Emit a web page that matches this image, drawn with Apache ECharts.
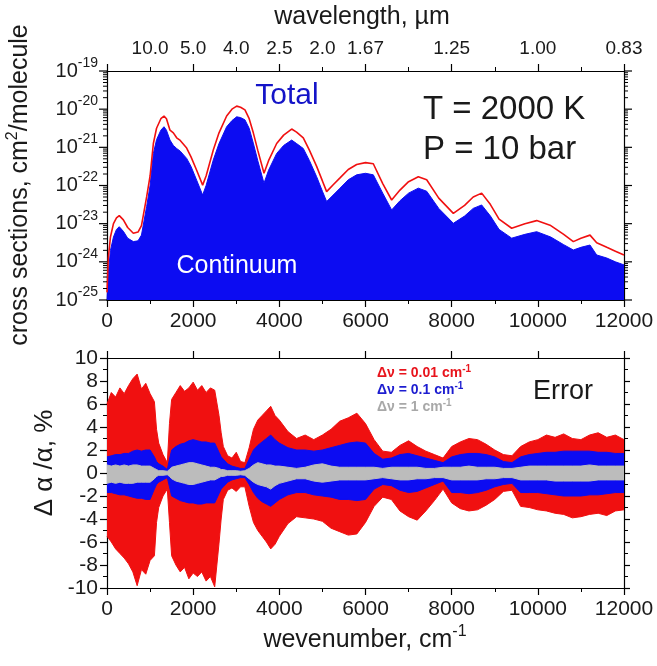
<!DOCTYPE html>
<html><head><meta charset="utf-8">
<script src="https://cdn.jsdelivr.net/npm/echarts@6/dist/echarts.min.js"></script>
<style>html,body{margin:0;padding:0;background:#fff}#c{width:657px;height:666px}</style>
</head><body><div id="c"></div>
<script>
// ---------- top panel: cross sections (log10 of cm^2/molecule) ----------
const specX = [0,30,80,150,220,285,380,480,611,720,800,920,1000,1076,1150,1250,1323,1380,1462,1540,1617,1700,1849,1950,2081,2220,2300,2467,2600,2777,2900,3010,3100,3202,3300,3396,3500,3644,3750,3938,4100,4286,4400,4556,4700,4866,5000,5098,5250,5408,5600,5795,6000,6181,6400,6607,6800,7000,7226,7420,7700,8039,8300,8500,8696,8900,9100,9393,9700,9973,10300,10600,10824,11000,11211,11366,11600,11800,12000];
const totalExp = [-25.0,-24.3,-23.7,-23.35,-23.15,-23.08,-23.2,-23.38,-23.47,-23.45,-23.3,-22.55,-22.0,-21.16,-20.8,-20.55,-20.46,-20.55,-20.81,-20.95,-21.03,-21.1,-21.29,-21.5,-21.86,-22.25,-22.0,-21.33,-20.9,-20.46,-20.3,-20.2,-20.22,-20.28,-20.5,-20.89,-21.35,-21.94,-21.6,-21.16,-20.95,-20.81,-20.9,-21.03,-21.35,-21.77,-22.15,-22.42,-22.25,-22.07,-21.85,-21.72,-21.68,-21.72,-22.2,-22.64,-22.4,-22.2,-22.07,-22.15,-22.6,-22.99,-22.8,-22.6,-22.51,-22.8,-23.15,-23.38,-23.28,-23.21,-23.35,-23.55,-23.69,-23.62,-23.56,-23.82,-23.9,-24.0,-24.08];
const redExp = [-24.8,-23.9,-23.35,-23.0,-22.85,-22.79,-22.9,-23.1,-23.25,-23.22,-23.05,-22.3,-21.75,-20.9,-20.5,-20.25,-20.18,-20.25,-20.55,-20.62,-20.75,-20.82,-21.02,-21.25,-21.6,-21.99,-21.75,-21.07,-20.62,-20.18,-20.0,-19.92,-19.95,-20.02,-20.25,-20.62,-21.08,-21.68,-21.35,-20.9,-20.68,-20.52,-20.6,-20.75,-21.08,-21.5,-21.88,-22.16,-21.98,-21.8,-21.58,-21.45,-21.4,-21.43,-21.95,-22.38,-22.12,-21.9,-21.77,-21.85,-22.33,-22.73,-22.52,-22.3,-22.2,-22.5,-22.88,-23.12,-23.0,-22.92,-23.05,-23.28,-23.47,-23.38,-23.3,-23.5,-23.62,-23.72,-23.82];
const logTickExps = [-25,-24,-23,-22,-21,-20,-19];
const wlTickPos = [1000,2000,3000,4000,5000,6000,8000,10000,12000];
const wlTickLabels = ['10.0','5.0','4.0','2.5','2.0','1.67','1.25','1.00','0.83'];

// ---------- bottom panel: error envelopes (%) ----------
const errX = [0,100,200,300,400,500,600,700,800,900,1000,1100,1150,1200,1300,1400,1450,1500,1600,1700,1800,1900,2000,2100,2200,2300,2400,2500,2600,2650,2700,2800,2900,3000,3100,3200,3300,3400,3500,3600,3700,3800,3900,4000,4200,4400,4600,4800,5000,5200,5400,5600,5800,6000,6200,6400,6600,6800,7000,7200,7400,7600,7800,8000,8200,8400,8600,8800,9000,9200,9400,9600,9800,10000,10200,10400,10600,10800,11000,11200,11400,11600,11800,12000];
const red001Up = [6.0,7.0,6.6,7.4,6.9,7.6,8.2,8.6,7.3,7.8,6.9,6.2,3.8,2.6,1.6,0.9,4.3,6.4,7.0,7.6,7.1,7.4,7.9,7.2,7.6,7.0,7.4,7.2,5.0,3.5,2.3,1.5,1.3,1.8,1.0,0.9,2.2,3.8,4.6,5.0,5.4,5.8,5.0,4.6,3.6,3.0,3.3,2.9,3.3,3.8,4.5,4.8,5.2,4.3,2.9,1.9,1.8,2.4,2.8,2.3,1.9,1.6,1.3,2.3,2.7,3.0,2.9,2.5,2.0,1.6,1.5,2.3,2.7,2.9,3.3,3.1,3.4,3.0,2.9,3.3,3.5,3.1,3.3,2.9];
const red001Lo = [-5.5,-6.0,-6.6,-7.0,-7.4,-7.9,-8.6,-9.8,-8.4,-8.8,-7.6,-7.2,-4.3,-3.0,-2.0,-1.4,-4.3,-7.2,-8.0,-8.6,-8.2,-9.2,-8.7,-9.0,-8.6,-9.4,-9.0,-9.9,-6.1,-4.0,-2.3,-1.5,-1.3,-1.6,-1.2,-1.2,-2.9,-4.3,-5.0,-5.5,-6.0,-6.6,-6.2,-5.5,-4.4,-3.8,-3.9,-4.0,-4.2,-4.8,-5.1,-5.4,-5.3,-4.3,-2.9,-2.1,-2.3,-3.3,-3.8,-4.1,-3.3,-2.4,-1.4,-2.6,-3.1,-3.3,-3.2,-2.8,-2.3,-1.6,-1.5,-2.9,-3.0,-3.2,-3.3,-3.5,-3.6,-3.9,-3.8,-3.6,-3.5,-3.7,-3.3,-3.2];
const blue01Up = [1.4,1.5,1.6,1.6,1.7,1.7,1.9,2.0,1.9,2.0,2.0,1.4,1.0,0.8,0.6,0.3,1.2,2.0,2.3,2.5,2.6,2.8,2.9,2.8,2.7,2.7,2.6,2.6,1.8,1.4,1.2,0.8,0.6,0.5,0.4,0.4,1.2,2.0,2.4,2.7,3.0,3.3,2.9,2.6,2.2,2.0,2.0,1.9,2.0,2.2,2.4,2.6,2.7,2.6,1.7,1.2,1.3,1.6,1.7,1.5,1.3,1.1,0.9,1.4,1.6,1.7,1.7,1.6,1.4,1.0,0.9,1.4,1.6,1.7,1.8,1.8,1.9,1.9,1.9,1.9,1.8,1.8,1.7,1.7];
const blue01Lo = [-1.7,-1.7,-1.8,-1.9,-1.9,-2.0,-2.1,-2.2,-2.2,-2.3,-2.3,-1.4,-1.0,-0.8,-0.6,-0.4,-1.2,-2.0,-2.2,-2.4,-2.5,-2.6,-2.6,-2.7,-2.7,-2.6,-2.6,-2.6,-1.8,-1.4,-1.2,-0.8,-0.6,-0.5,-0.4,-0.4,-1.0,-1.7,-2.2,-2.5,-2.7,-2.9,-2.6,-2.3,-1.9,-1.7,-1.7,-1.9,-2.0,-2.1,-2.3,-2.3,-2.4,-2.3,-1.4,-1.0,-1.1,-1.5,-1.7,-1.6,-1.3,-1.0,-0.7,-1.7,-1.7,-1.8,-1.7,-1.5,-1.2,-1.0,-0.9,-1.7,-1.7,-1.7,-1.8,-1.9,-2.0,-2.0,-2.0,-1.9,-1.9,-1.8,-1.7,-1.7];
const gray1Up = [0.7,0.6,0.7,0.6,0.7,0.6,0.7,0.7,0.6,0.6,0.6,0.4,0.3,0.2,0.2,0.15,0.3,0.5,0.6,0.7,0.8,0.9,0.9,0.8,0.7,0.6,0.5,0.5,0.4,0.3,0.3,0.2,0.2,0.2,0.15,0.2,0.4,0.7,0.9,0.8,0.7,0.7,0.6,0.6,0.5,0.4,0.5,0.7,0.8,0.6,0.5,0.5,0.5,0.5,0.5,0.4,0.5,0.5,0.5,0.5,0.4,0.4,0.5,0.5,0.5,0.6,0.5,0.5,0.5,0.4,0.4,0.5,0.6,0.6,0.6,0.6,0.6,0.6,0.6,0.7,0.6,0.6,0.6,0.6];
const gray1Lo = [-0.9,-0.8,-0.9,-0.8,-0.9,-0.9,-0.9,-0.8,-0.8,-0.8,-0.8,-0.5,-0.3,-0.2,-0.2,-0.15,-0.3,-0.5,-0.7,-0.8,-0.9,-1.0,-1.0,-0.9,-0.8,-0.7,-0.6,-0.6,-0.4,-0.3,-0.3,-0.2,-0.2,-0.2,-0.15,-0.2,-0.5,-0.8,-1.0,-1.1,-1.2,-1.4,-1.1,-0.9,-0.7,-0.5,-0.5,-0.7,-0.8,-0.7,-0.6,-0.6,-0.6,-0.6,-0.5,-0.4,-0.5,-0.6,-0.6,-0.5,-0.5,-0.4,-0.4,-0.6,-0.6,-0.6,-0.6,-0.5,-0.5,-0.4,-0.4,-0.6,-0.6,-0.6,-0.6,-0.7,-0.7,-0.7,-0.7,-0.7,-0.6,-0.6,-0.6,-0.6];

// ---------- styling ----------
const FONT = '"Liberation Sans", Arial, sans-serif';
const TXT = '#1a1a1a';
const BLUE = '#0c0cf2';
const RED = '#f01010';
const GRAY = '#bcbcbc';
const Y_MIN = 1e-25, Y_MAX = 1e-19;

// minor tick values of the log axis (2..9 x 10^n)
const logMinor = [];
for (let n = -25; n < -19; n++) for (let k = 2; k <= 9; k++) logMinor.push(k * Math.pow(10, n));

const chart = echarts.init(document.getElementById('c'), null, {renderer: 'canvas'});

const G0 = {left: 107, top: 71, width: 517, height: 229, containLabel: false, outerBoundsMode: 'none'};
const G1 = {left: 107, top: 358, width: 517, height: 230, containLabel: false, outerBoundsMode: 'none'};

function xBase(gridIndex, position, showLabel, extra) {
  return Object.assign({
    type: 'value', gridIndex, position, min: 0, max: 12000, interval: 2000,
    axisLine: {show: true, onZero: false, lineStyle: {color: '#000', width: 1.2}},
    axisTick: {show: true, inside: false, length: 7, lineStyle: {color: '#000', width: 1.2}},
    minorTick: {show: true, splitNumber: 2, length: 4, lineStyle: {color: '#000', width: 1}},
    splitLine: {show: false}, minorSplitLine: {show: false},
    axisLabel: {show: showLabel, fontFamily: FONT, fontSize: 21, color: TXT, margin: 11, formatter: (v) => String(v)}
  }, extra || {});
}

const option = {
  animation: false,
  backgroundColor: '#fff',
  grid: [G0, G1],
  xAxis: [
    xBase(0, 'bottom', true),
    xBase(0, 'top', true, {
      axisLabel: {show: true, fontFamily: FONT, fontSize: 19, color: TXT, margin: 13,
        customValues: wlTickPos,
        formatter: (v) => { const i = wlTickPos.indexOf(v); return i >= 0 ? wlTickLabels[i] : ''; }}
    }),
    xBase(1, 'bottom', true),
    xBase(1, 'top', false, {minorTick: {show: false}})
  ],
  yAxis: [
    { // 0: data log axis (left); decade labels drawn by the custom series below
      type: 'log', logBase: 10, gridIndex: 0, position: 'left', min: Y_MIN, max: Y_MAX,
      axisLine: {show: true, onZero: false, lineStyle: {color: '#000', width: 1.2}},
      axisTick: {show: false}, axisLabel: {show: false}, splitLine: {show: false}
    },
    { // 1: right log axis
      type: 'log', logBase: 10, gridIndex: 0, position: 'right', min: Y_MIN, max: Y_MAX,
      axisLine: {show: true, onZero: false, lineStyle: {color: '#000', width: 1.2}},
      axisTick: {show: false}, axisLabel: {show: false}, splitLine: {show: false}
    },
    { // 2: error axis left
      type: 'value', gridIndex: 1, position: 'left', min: -10, max: 10, interval: 2,
      axisLine: {show: true, onZero: false, lineStyle: {color: '#000', width: 1.2}},
      axisTick: {show: true, length: 7, lineStyle: {color: '#000', width: 1.2}},
      minorTick: {show: true, splitNumber: 2, length: 4, lineStyle: {color: '#000', width: 1}},
      splitLine: {show: false}, minorSplitLine: {show: false},
      axisLabel: {fontFamily: FONT, fontSize: 21, color: TXT, margin: 9, showMinLabel: true, showMaxLabel: true}
    },
    { // 3: error axis right
      type: 'value', gridIndex: 1, position: 'right', min: -10, max: 10, interval: 2,
      axisLine: {show: true, onZero: false, lineStyle: {color: '#000', width: 1.2}},
      axisTick: {show: true, length: 6, lineStyle: {color: '#000', width: 1.2}},
      minorTick: {show: true, splitNumber: 2, length: 4, lineStyle: {color: '#000', width: 1}},
      splitLine: {show: false}, axisLabel: {show: false}
    }
  ],
  series: [
    {
      name: 'Total (fill)', type: 'line', xAxisIndex: 0, yAxisIndex: 0, symbol: 'none', z: 2,
      data: specX.map((x, i) => [x, Math.pow(10, totalExp[i])]),
      lineStyle: {color: BLUE, width: 1}, areaStyle: {color: BLUE, opacity: 1, origin: Y_MIN}
    },
    {
      name: 'Total (line)', type: 'line', xAxisIndex: 0, yAxisIndex: 0, symbol: 'none', z: 3,
      data: specX.map((x, i) => [x, Math.pow(10, redExp[i])]),
      lineStyle: {color: RED, width: 1.6}
    },
    { // log-axis minor ticks on both vertical edges of the top panel
      type: 'custom', xAxisIndex: 0, yAxisIndex: 0, clip: false, silent: true, z: 6,
      data: logMinor.map((v) => [0, v]),
      renderItem: (params, api) => {
        const p = api.coord([0, api.value(1)]);
        const cs = params.coordSys;
        const xl = cs.x, xr = cs.x + cs.width;
        return {type: 'group', children: [
          {type: 'line', shape: {x1: xl - 4, y1: p[1], x2: xl, y2: p[1]}, style: {stroke: '#000', lineWidth: 1}},
          {type: 'line', shape: {x1: xr, y1: p[1], x2: xr + 4, y2: p[1]}, style: {stroke: '#000', lineWidth: 1}}
        ]};
      }
    },
    { // log-axis decade ticks + labels
      type: 'custom', xAxisIndex: 0, yAxisIndex: 0, clip: false, silent: true, z: 6,
      data: logTickExps.map((e) => [0, Math.pow(10, e), e]),
      renderItem: (params, api) => {
        const p = api.coord([0, api.value(1)]);
        const cs = params.coordSys;
        const xl = cs.x, xr = cs.x + cs.width;
        return {type: 'group', children: [
          {type: 'line', shape: {x1: xl - 8, y1: p[1], x2: xl, y2: p[1]}, style: {stroke: '#000', lineWidth: 1.2}},
          {type: 'line', shape: {x1: xr, y1: p[1], x2: xr + 8, y2: p[1]}, style: {stroke: '#000', lineWidth: 1.2}},
          {type: 'text', x: xl - 9, y: p[1], style: {
            text: '{b|10}{s|' + api.value(2) + '}', align: 'right', verticalAlign: 'middle',
            rich: {b: {fontFamily: FONT, fontSize: 20, fill: TXT, lineHeight: 30},
                   s: {fontFamily: FONT, fontSize: 14, fill: TXT, verticalAlign: 'top', lineHeight: 14}}}}
        ]};
      }
    },
    ...[[red001Up, RED], [red001Lo, RED], [blue01Up, BLUE], [blue01Lo, BLUE], [gray1Up, GRAY], [gray1Lo, GRAY]].map(([arr, col], k) => ({
      type: 'line', xAxisIndex: 2, yAxisIndex: 2, symbol: 'none', z: 2 + k,
      data: errX.map((x, i) => [x, arr[i]]),
      lineStyle: {color: col, width: 1}, areaStyle: {color: col, opacity: 1, origin: 0}
    }))
  ],
  graphic: [
    {type: 'text', x: 362, y: 17, style: {text: 'wavelength, µm', font: '25px ' + FONT, fill: TXT, align: 'center', verticalAlign: 'middle'}},
    {type: 'text', x: 20, y: 185, rotation: Math.PI / 2, style: {
      text: '{a|cross sections, cm}{s|2}{a|/molecule}', align: 'center', verticalAlign: 'middle',
      rich: {a: {fontFamily: FONT, fontSize: 25, fill: TXT, lineHeight: 30}, s: {fontFamily: FONT, fontSize: 16, fill: TXT, verticalAlign: 'top', lineHeight: 16}}}},
    {type: 'text', x: 45, y: 463, rotation: Math.PI / 2, style: {text: 'Δ α /α, %', font: '26px ' + FONT, fill: TXT, align: 'center', verticalAlign: 'middle'}},
    {type: 'text', x: 365, y: 640, style: {
      text: '{a|wevenumber, cm}{s|-1}', align: 'center', verticalAlign: 'middle',
      rich: {a: {fontFamily: FONT, fontSize: 25, fill: TXT, lineHeight: 32}, s: {fontFamily: FONT, fontSize: 16, fill: TXT, verticalAlign: 'top', lineHeight: 18}}}},
    {type: 'text', x: 287, y: 96, z: 10, style: {text: 'Total', font: '30px ' + FONT, fill: '#1414c8', align: 'center', verticalAlign: 'middle'}},
    {type: 'text', x: 237, y: 266, z: 10, style: {text: 'Continuum', font: '25px ' + FONT, fill: '#ffffff', align: 'center', verticalAlign: 'middle'}},
    {type: 'text', x: 423, y: 110, z: 10, style: {text: 'T = 2000 K', font: '33px ' + FONT, fill: TXT, align: 'left', verticalAlign: 'middle'}},
    {type: 'text', x: 423, y: 150, z: 10, style: {text: 'P = 10 bar', font: '33px ' + FONT, fill: TXT, align: 'left', verticalAlign: 'middle'}},
    {type: 'text', x: 533, y: 392, z: 10, style: {text: 'Error', font: '27px ' + FONT, fill: TXT, align: 'left', verticalAlign: 'middle'}},
    ...[['Δν = 0.01 cm', '#e8141c', 373], ['Δν = 0.1 cm', '#1c1cd0', 390], ['Δν = 1 cm', '#a8a8a8', 407]].map(([t, c, y]) => ({
      type: 'text', x: 377, y, z: 10, style: {
        text: '{a|' + t + '}{s|-1}', align: 'left', verticalAlign: 'middle', fill: c,
        rich: {a: {fontFamily: FONT, fontSize: 14, fontWeight: 'bold', fill: c, lineHeight: 18},
               s: {fontFamily: FONT, fontSize: 10, fontWeight: 'bold', fill: c, verticalAlign: 'top', lineHeight: 10}}}
    }))
  ]
};
chart.setOption(option);
</script>
</body></html>
